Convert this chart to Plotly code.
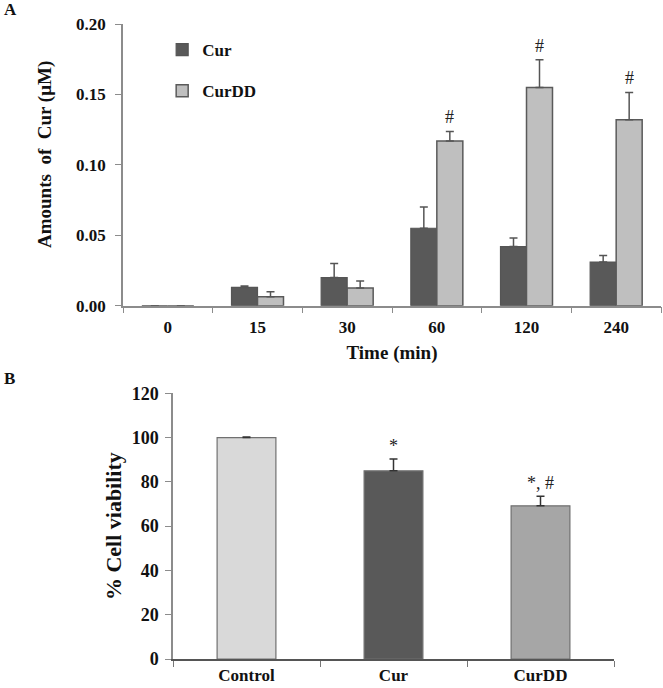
import plotly.graph_objects as go

# ---- Data: panel A ----
time_labels = ["0", "15", "30", "60", "120", "240"]
cur_vals = [0.0, 0.013, 0.020, 0.055, 0.042, 0.031]
cur_err = [0.0, 0.001, 0.010, 0.015, 0.006, 0.0047]
curdd_vals = [0.0, 0.0064, 0.0125, 0.117, 0.155, 0.132]
curdd_err = [0.0, 0.0035, 0.005, 0.0067, 0.0197, 0.0194]
hash_marks = ["", "", "", "#", "#", "#"]

# ---- Data: panel B ----
groups = ["Control", "Cur", "CurDD"]
viability = [100.0, 85.0, 69.2]
viability_err = [0.3, 5.3, 4.3]
viability_marks = ["", "*", "*, #"]
viability_colors = ["#d9d9d9", "#595959", "#a6a6a6"]

FONT = "Liberation Serif"
DARK = "#595959"
LIGHT = "#bfbfbf"
AXIS = "#8c8c8c"
INK = "#111111"


def bfont(size):
    return dict(family=FONT, size=size, color=INK, weight="bold")


fig = go.Figure()

fig.add_trace(go.Bar(
    x=time_labels, y=cur_vals, name="Cur", legendgroup="a",
    marker=dict(color=DARK, line=dict(color="#555555", width=1.2)),
    error_y=dict(type="data", symmetric=False, array=cur_err,
                 arrayminus=[0] * len(cur_err), color="#555555", thickness=1.5, width=4),
    xaxis="x", yaxis="y",
))
fig.add_trace(go.Bar(
    x=time_labels, y=curdd_vals, name="CurDD", legendgroup="b",
    marker=dict(color=LIGHT, line=dict(color="#5a5a5a", width=1.5)),
    error_y=dict(type="data", symmetric=False, array=curdd_err,
                 arrayminus=[0] * len(curdd_err), color="#555555", thickness=1.5, width=4),
    xaxis="x", yaxis="y",
))

fig.add_trace(go.Bar(
    x=groups, y=viability, showlegend=False,
    marker=dict(color=viability_colors, line=dict(color="#707070", width=1.2)),
    error_y=dict(type="data", symmetric=False, array=viability_err,
                 arrayminus=[0] * len(viability_err), color="#333333", thickness=1.5, width=4),
    width=0.40,
    xaxis="x2", yaxis="y2",
))

annotations = []
# category index positions (x=i) so numeric-looking labels are not read as indices
for i, (v, e, m) in enumerate(zip(curdd_vals, curdd_err, hash_marks)):
    if m:
        annotations.append(dict(x=i, y=v + e, xref="x", yref="y", text=m,
                                showarrow=False, xshift=13, yanchor="bottom", yshift=2,
                                font=dict(family=FONT, size=18, color="#222222")))
for i, (v, e, m) in enumerate(zip(viability, viability_err, viability_marks)):
    if m:
        annotations.append(dict(x=i, y=v + e, xref="x2", yref="y2", text=m,
                                showarrow=False, yanchor="bottom", yshift=1,
                                font=dict(family=FONT, size=18, color="#222222")))

annotations.append(dict(x=0.003, y=1 - 9 / 688, xref="paper", yref="paper", text="A",
                        showarrow=False, xanchor="left", yanchor="middle", font=bfont(17)))
annotations.append(dict(x=0.003, y=1 - 378 / 688, xref="paper", yref="paper", text="B",
                        showarrow=False, xanchor="left", yanchor="middle", font=bfont(17)))
# panel A y-axis title (sits slightly above the axis centre in the reference)
annotations.append(dict(x=45 / 663, y=1 - 155 / 688, xref="paper", yref="paper",
                        text="Amounts  of  Cur (μM)", textangle=-90, showarrow=False,
                        xanchor="center", yanchor="middle", font=bfont(19)))

fig.update_layout(
    width=663, height=688,
    margin=dict(l=0, r=0, t=0, b=0),
    paper_bgcolor="white", plot_bgcolor="white",
    barmode="group", bargap=0.42, bargroupgap=0,
    font=dict(family=FONT, color=INK),
    annotations=annotations,
    legend=dict(x=0.2446, y=1 - 32 / 688, xanchor="left", yanchor="top",
                bgcolor="rgba(0,0,0,0)", font=bfont(17),
                tracegroupgap=16, itemwidth=30, traceorder="grouped"),
    xaxis=dict(domain=[123 / 663, 661 / 663], anchor="y", type="category",
               range=[-0.5, len(time_labels) - 0.5], automargin=False,
               showline=True, linecolor=AXIS, linewidth=1.5,
               ticks="outside", tickson="boundaries", ticklen=6, tickcolor=AXIS,
               tickfont=bfont(17), ticklabelstandoff=5, showgrid=False,
               title=dict(text="Time (min)", font=bfont(19), standoff=10)),
    yaxis=dict(domain=[1 - 305.7 / 688, 1 - 24 / 688], anchor="x", range=[0, 0.2],
               automargin=False,
               tickvals=[0, 0.05, 0.10, 0.15, 0.20], tickformat=".2f",
               showline=True, linecolor=AXIS, linewidth=1.5,
               ticks="outside", ticklen=6, tickcolor=AXIS, showgrid=False, zeroline=False,
               tickfont=bfont(17), ticklabelstandoff=6),
    xaxis2=dict(domain=[173 / 663, 614 / 663], anchor="y2", type="category",
                range=[-0.5, len(groups) - 0.5], automargin=False,
                showline=True, linecolor="#555555", linewidth=1.5,
                ticks="outside", tickson="boundaries", ticklen=6, tickcolor="#777777",
                tickfont=bfont(17), ticklabelstandoff=0, showgrid=False),
    yaxis2=dict(domain=[1 - 659 / 688, 1 - 393.3 / 688], anchor="x2", range=[0, 120],
                automargin=False,
                tickvals=[0, 20, 40, 60, 80, 100, 120],
                showline=True, linecolor=AXIS, linewidth=1.5,
                ticks="outside", ticklen=6, tickcolor=AXIS, showgrid=False, zeroline=False,
                tickfont=bfont(18), ticklabelstandoff=3,
                title=dict(text="% Cell viability", font=bfont(22), standoff=4)),
)

fig.write_html("out.html", config={"displayModeBar": False},
               post_script="document.body.style.margin='0';document.body.style.overflow='hidden';")
